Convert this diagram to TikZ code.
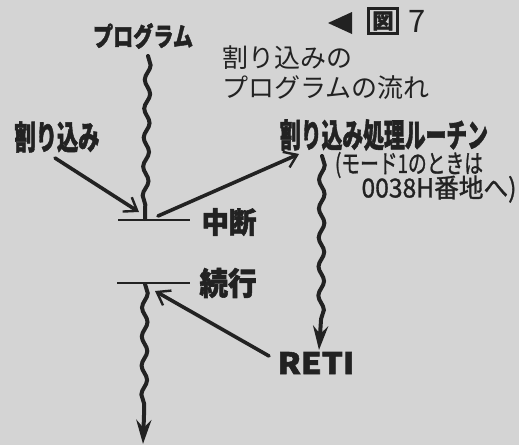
\documentclass[tikz,border=0pt]{standalone}
\usepackage{graphicx}
\usepackage{fontspec}
\newfontfamily\jp{Noto Sans CJK JP}
\newfontfamily\jpb{Noto Sans CJK JP}[FakeBold=1.2, BoldFeatures={FakeBold=1.8}]
\usetikzlibrary{arrows.meta,decorations.pathmorphing}
\definecolor{paper}{RGB}{212,212,212}
\definecolor{ink}{RGB}{34,34,34}
\newcommand{\hwtext}[3]{\resizebox{#1}{#2}{#3}}
\begin{document}
\begin{tikzpicture}[x=1pt,y=-1pt,
  lbl/.style={font=\jpb\bfseries\fontsize{20}{22}\selectfont, text=ink, inner sep=0pt},
  note/.style={font=\jpb\fontsize{17}{19}\selectfont, text=ink, inner sep=0pt},
  wave/.style={draw=ink, line width=4pt, line cap=round, decorate, decoration={snake, amplitude=2.8pt, segment length=29pt}},
  tipline/.style={draw=ink, line width=4pt, -{Stealth[length=24pt,width=15pt,inset=8pt]}},
  sarrow/.style={draw=ink, line width=3.6pt, line cap=round, -{Straight Barb[length=12pt,width=17pt,line width=2.4pt]}},
  bar/.style={draw=ink, line width=1.5pt}]
\fill[paper] (0,0) rectangle (519,445);
\useasboundingbox (0,0) rectangle (519,445);

% figure number
\fill[ink] (328,23) -- (352,12) -- (352,34) -- cycle;
\node[draw=ink, line width=2.4pt, minimum width=29pt, minimum height=25pt, inner sep=0pt,
      font=\jpb\bfseries\fontsize{21}{22}\selectfont, text=ink] (zu) at (383,21) {図};
\node[font=\jp\fontsize{31}{32}\selectfont, text=ink, inner sep=0pt] (seven) at (417,21) {7};

% title
\node[font=\jp\fontsize{26}{30}\selectfont, text=ink, inner sep=0pt, anchor=north west, align=left]
  (title) at (222,46) {割り込みの\\プログラムの流れ};

% labels
\node[lbl] (prog) at (143,36) {\hwtext{100pt}{23pt}{プログラム}};
\node[lbl] (intr) at (57,137) {\hwtext{85pt}{28pt}{割り込み}};
\node[lbl] (rout) at (384,135) {\hwtext{208pt}{28pt}{割り込み処理ルーチン}};
\node[note] (note1) at (409,165) {\hwtext{148pt}{21pt}{(モード1のときは}};
\node[note] (note2) at (439,189) {\hwtext{155pt}{22pt}{0038H番地へ)}};
\node[lbl] (chudan) at (229,222) {\hwtext{55pt}{25pt}{中断}};
\node[lbl] (zokko) at (228,283) {\hwtext{57pt}{27pt}{続行}};
\node[lbl] (reti) at (316,363) {\hwtext{77pt}{22pt}{RETI}};

% bars
\coordinate (b1l) at (118,220); \coordinate (b1r) at (190,220);
\coordinate (b2l) at (117,283); \coordinate (b2r) at (190,283);
\draw[bar] (b1l) -- (b1r);
\draw[bar] (b2l) -- (b2r);

% main program flow
\coordinate (w1s) at (148,56); \coordinate (w1e) at (145,219);
\draw[wave] (w1s) -- (w1e);
\coordinate (w3s) at (145,284); \coordinate (w3e) at (144,415); \coordinate (w3t) at (143,444);
\draw[wave] (w3s) -- (w3e);
\draw[tipline] (w3e) -- (w3t);

% routine flow
\coordinate (w2s) at (322,156); \coordinate (w2e) at (321,320); \coordinate (w2t) at (319,350);
\draw[wave] (w2s) -- (w2e);
\draw[tipline] (w2e) -- (w2t);

% arrows
\coordinate (a1s) at (55,158); \coordinate (a1e) at (139,212);
\draw[sarrow] (a1s) -- (a1e);
\coordinate (a2s) at (158,216); \coordinate (a2e) at (299,154);
\draw[sarrow] (a2s) -- (a2e);
\coordinate (a3s) at (269,356); \coordinate (a3e) at (155,291);
\draw[sarrow] (a3s) -- (a3e);
\end{tikzpicture}
\end{document}
